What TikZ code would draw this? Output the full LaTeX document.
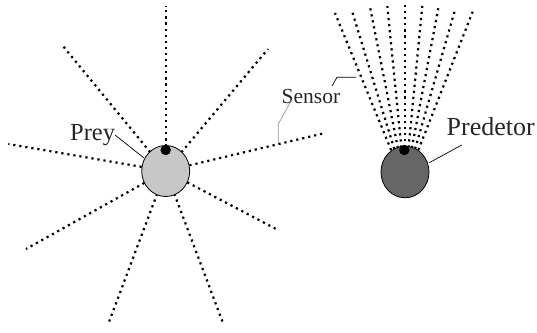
\documentclass[tikz,border=0pt]{standalone}
\usepackage{fontspec}
\setmainfont{Liberation Serif}
\usetikzlibrary{shapes.geometric}
\begin{document}
\begin{tikzpicture}[x=1pt,y=-1pt,
  ray/.style={line width=2.2pt,dash pattern=on 2.2pt off 3.9pt},
  body/.style={ellipse,draw=black,line width=0.8pt,inner sep=0pt,minimum width=48pt,minimum height=51pt},
  eye/.style={circle,fill=black,inner sep=0pt,minimum size=10.5pt},
  lbl/.style={inner sep=0pt,anchor=base west,text=black!85},
  leader/.style={line width=0.7pt}]
\useasboundingbox (0,0) rectangle (537,332);
% centres
\coordinate (pc) at (165.7,171);
\coordinate (dc) at (405,172);
\coordinate (fo) at (405,184);
% prey rays
\foreach \n/\x/\y in {1/165.7/6, 2/62.7/45.7, 3/268/49, 4/8.3/144, 5/325/133, 6/26/249, 7/278/230, 8/109/322, 9/223/323}
  {\coordinate (pr\n) at (\x,\y); \draw[ray] (pc) -- (pr\n);}
% predator fan
\foreach \n/\x/\y in {1/335/13, 2/351.7/10, 3/370/7, 4/387.3/6, 5/405/5, 6/422.3/6, 7/438.3/8.3, 8/455/10, 9/472.7/11.7}
  {\coordinate (dr\n) at (\x,\y); \draw[ray] (fo) -- (dr\n);}
% bodies
\node[body,fill=black!22] (prey) at (pc) {};
\node[eye] (preyeye) at (165.7,150) {};
\node[body,fill=black!60,minimum height=51.5pt] (pred) at (dc) {};
\node[eye] (predeye) at (404.3,150) {};
% labels
\node[lbl,font=\fontsize{24.5}{26}\selectfont] (preyl) at (70,140) {Prey};
\node[lbl,font=\fontsize{26}{28}\selectfont] (predl) at (446.5,135) {Predetor};
\node[lbl,font=\fontsize{21.5}{23}\selectfont] (sensl) at (281.5,103.3) {Sensor};
% leaders
\coordinate (a1) at (115,135);
\coordinate (a2) at (144,158);
\draw[leader] (a1) -- (a2);
\coordinate (b1) at (461.7,145);
\coordinate (b2) at (429.3,162.7);
\draw[leader] (b1) -- (b2);
\coordinate (c1) at (332,86);
\coordinate (c2) at (337,77.3);
\coordinate (c3) at (356,77.3);
\draw[leader] (c1) -- (c2) -- (c3);
\coordinate (g1) at (291.7,100);
\coordinate (g2) at (278.3,124);
\coordinate (g3) at (278.3,143);
\draw[leader,draw=black!40] (g1) -- (g2) -- (g3);
\end{tikzpicture}
\end{document}
